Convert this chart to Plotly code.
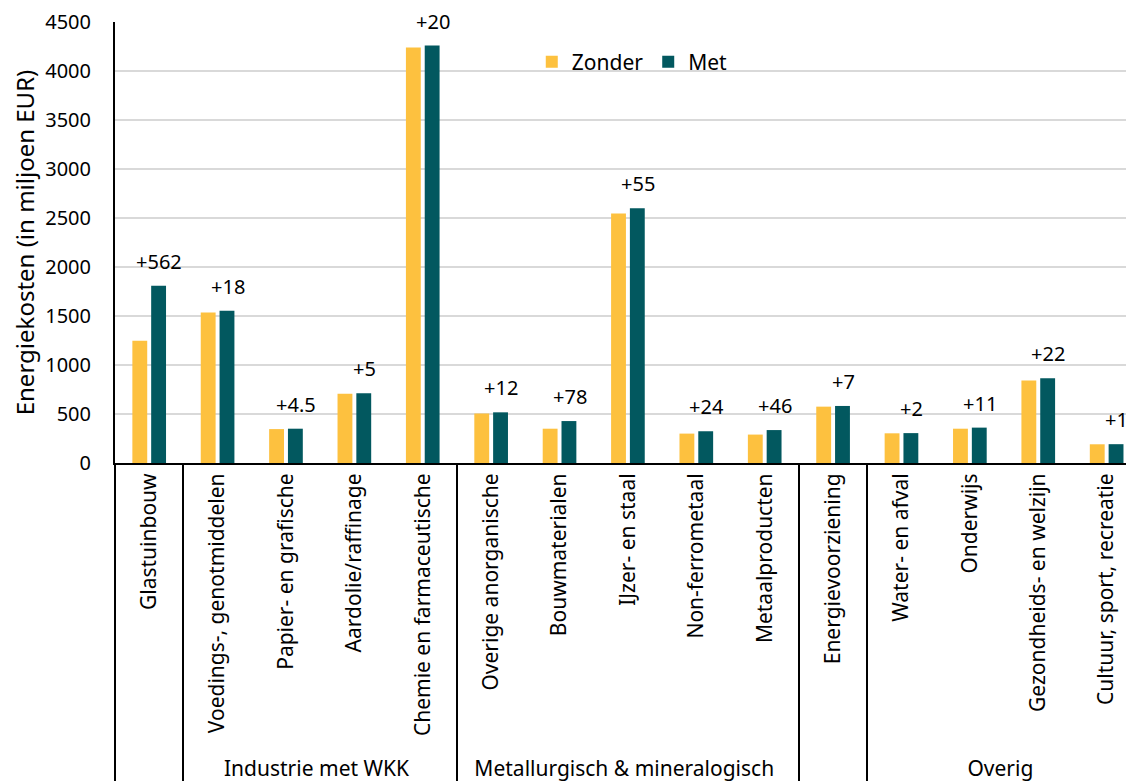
import plotly.graph_objects as go

categories = ["Glastuinbouw", "Voedings-, genotmiddelen", "Papier- en grafische",
              "Aardolie/raffinage", "Chemie en farmaceutische", "Overige anorganische",
              "Bouwmaterialen", "IJzer- en staal", "Non-ferrometaal", "Metaalproducten",
              "Energievoorziening", "Water- en afval", "Onderwijs",
              "Gezondheids- en welzijn", "Cultuur, sport, recreatie"]
# blank group names for the single sectors (distinct so they stay apart)
groups = [" "] + ["Industrie met WKK"] * 4 + ["Metallurgisch & mineralogisch"] * 5 \
         + ["  "] + ["Overig"] * 4

zonder = [1247, 1536, 346, 707, 4240, 505, 350, 2545, 300, 290, 575, 303, 350, 842, 191]
met = [1809, 1554, 350, 712, 4260, 517, 428, 2600, 324, 336, 582, 305, 361, 864, 192]
extra = ["+562", "+18", "+4.5", "+5", "+20", "+12", "+78", "+55", "+24", "+46",
         "+7", "+2", "+11", "+22", "+1"]

font = "Noto Sans"
yellow = "#FDC13F"
teal = "#02585F"

fig = go.Figure()
fig.add_trace(go.Bar(x=[groups, categories], y=zonder, name="Zonder",
                     marker=dict(color=yellow, line=dict(width=0))))
fig.add_trace(go.Bar(x=[groups, categories], y=met, name="Met",
                     marker=dict(color=teal, line=dict(width=0))))

for i, (v, t) in enumerate(zip(met, extra)):
    fig.add_annotation(x=i, y=v, text=t, showarrow=False, xref="x", yref="y",
                       yanchor="bottom", yshift=9, xshift=10,
                       font=dict(family=font, size=20, color="black"))

# page body adds 8px around the figure, so size/margins are reduced by that
fig.update_layout(
    width=1126, height=773,
    margin=dict(l=107, r=0, t=14, b=318),
    plot_bgcolor="white", paper_bgcolor="white",
    font=dict(family=font, size=20, color="black"),
    barmode="group", bargap=0.45, bargroupgap=0.21,
    showlegend=True,
    legend=dict(orientation="h", x=0.409, y=0.909, xanchor="left", yanchor="middle",
                font=dict(size=21), itemwidth=30, bgcolor="rgba(0,0,0,0)"),
)
fig.update_yaxes(range=[0, 4500], dtick=500, showgrid=True, gridcolor="#D9D9D9",
                 gridwidth=1.5, showline=True, linecolor="black", linewidth=2,
                 ticks="", ticklabelstandoff=18, zeroline=False, automargin=False,
                 title=dict(text="Energiekosten (in miljoen EUR)", standoff=8))
fig.update_xaxes(type="multicategory", range=[-0.5, 14.4], tickangle=-90,
                 tickfont=dict(size=21), automargin=False,
                 showline=True, linecolor="black", linewidth=2, ticks="",
                 showdividers=True, dividercolor="black", dividerwidth=1.5)

fig.write_html("out.html")
